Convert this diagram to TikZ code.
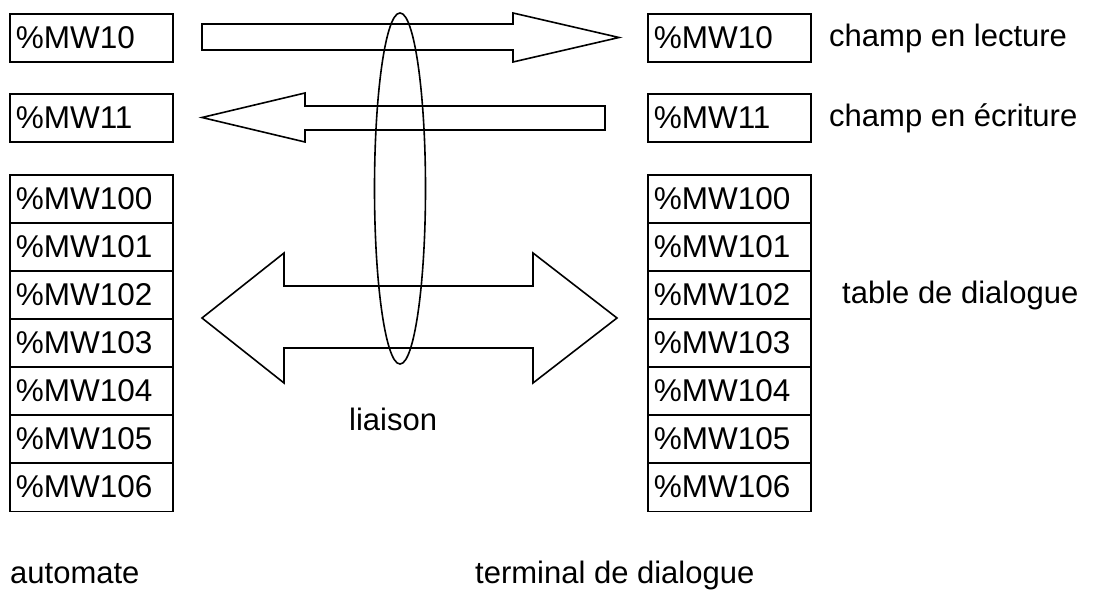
\documentclass[tikz,border=0pt]{standalone}
\usepackage{fontspec}
\setmainfont{Liberation Sans}
\begin{document}
\begin{tikzpicture}[x=1pt,y=-1pt,
  lw/.style={line width=1.6pt},
  cell/.style={lw,draw,anchor=north west,minimum width=163pt,minimum height=48.5pt,
    inner xsep=6pt,inner ysep=0pt,text width=151pt,align=left,text height=22pt,text depth=2pt,
    font=\fontsize{31.5}{36}\selectfont},
  lab/.style={anchor=base west,inner sep=0pt,font=\fontsize{31}{36}\selectfont},
  blockarrow/.style={lw,draw,line join=miter}]
\useasboundingbox (0,0) rectangle (1093,612);
% left column
\node[cell] (a10) at (9,13) {\%MW10};
\node[cell] (a11) at (9,93) {\%MW11};
\foreach \i in {0,...,6}{
  \node[cell] (a10\i) at (9,{174+\i*48}) {\%MW10\i};
}
% right column
\node[cell] (b10) at (647,13) {\%MW10};
\node[cell] (b11) at (647,93) {\%MW11};
\foreach \i in {0,...,6}{
  \node[cell] (b10\i) at (647,{174+\i*48}) {\%MW10\i};
}
% labels
\node[lab] (l1) at (829,47) {champ en lecture};
\node[lab] (l2) at (829,127) {champ en écriture};
\node[lab] (l3) at (842,304) {table de dialogue};
\node[lab] (l4) at (349,430) {liaison};
\node[lab] (l5) at (10,583) {automate};
\node[lab] (l6) at (475,583) {terminal de dialogue};
% block arrows
\draw[blockarrow] (202,24) -- (513,24) -- (513,13) -- (619,37.5) -- (513,62) -- (513,50) -- (202,50) -- cycle;
\draw[blockarrow] (605,106) -- (305,106) -- (305,93) -- (202,117.5) -- (305,142) -- (305,130) -- (605,130) -- cycle;
\draw[blockarrow] (202,318) -- (284,253) -- (284,286) -- (533,286) -- (533,253) -- (617,318)
   -- (533,383) -- (533,348) -- (284,348) -- (284,383) -- cycle;
% ellipse
\draw[lw] (400,188.5) ellipse [x radius=25.5, y radius=175.5];
\end{tikzpicture}
\end{document}
